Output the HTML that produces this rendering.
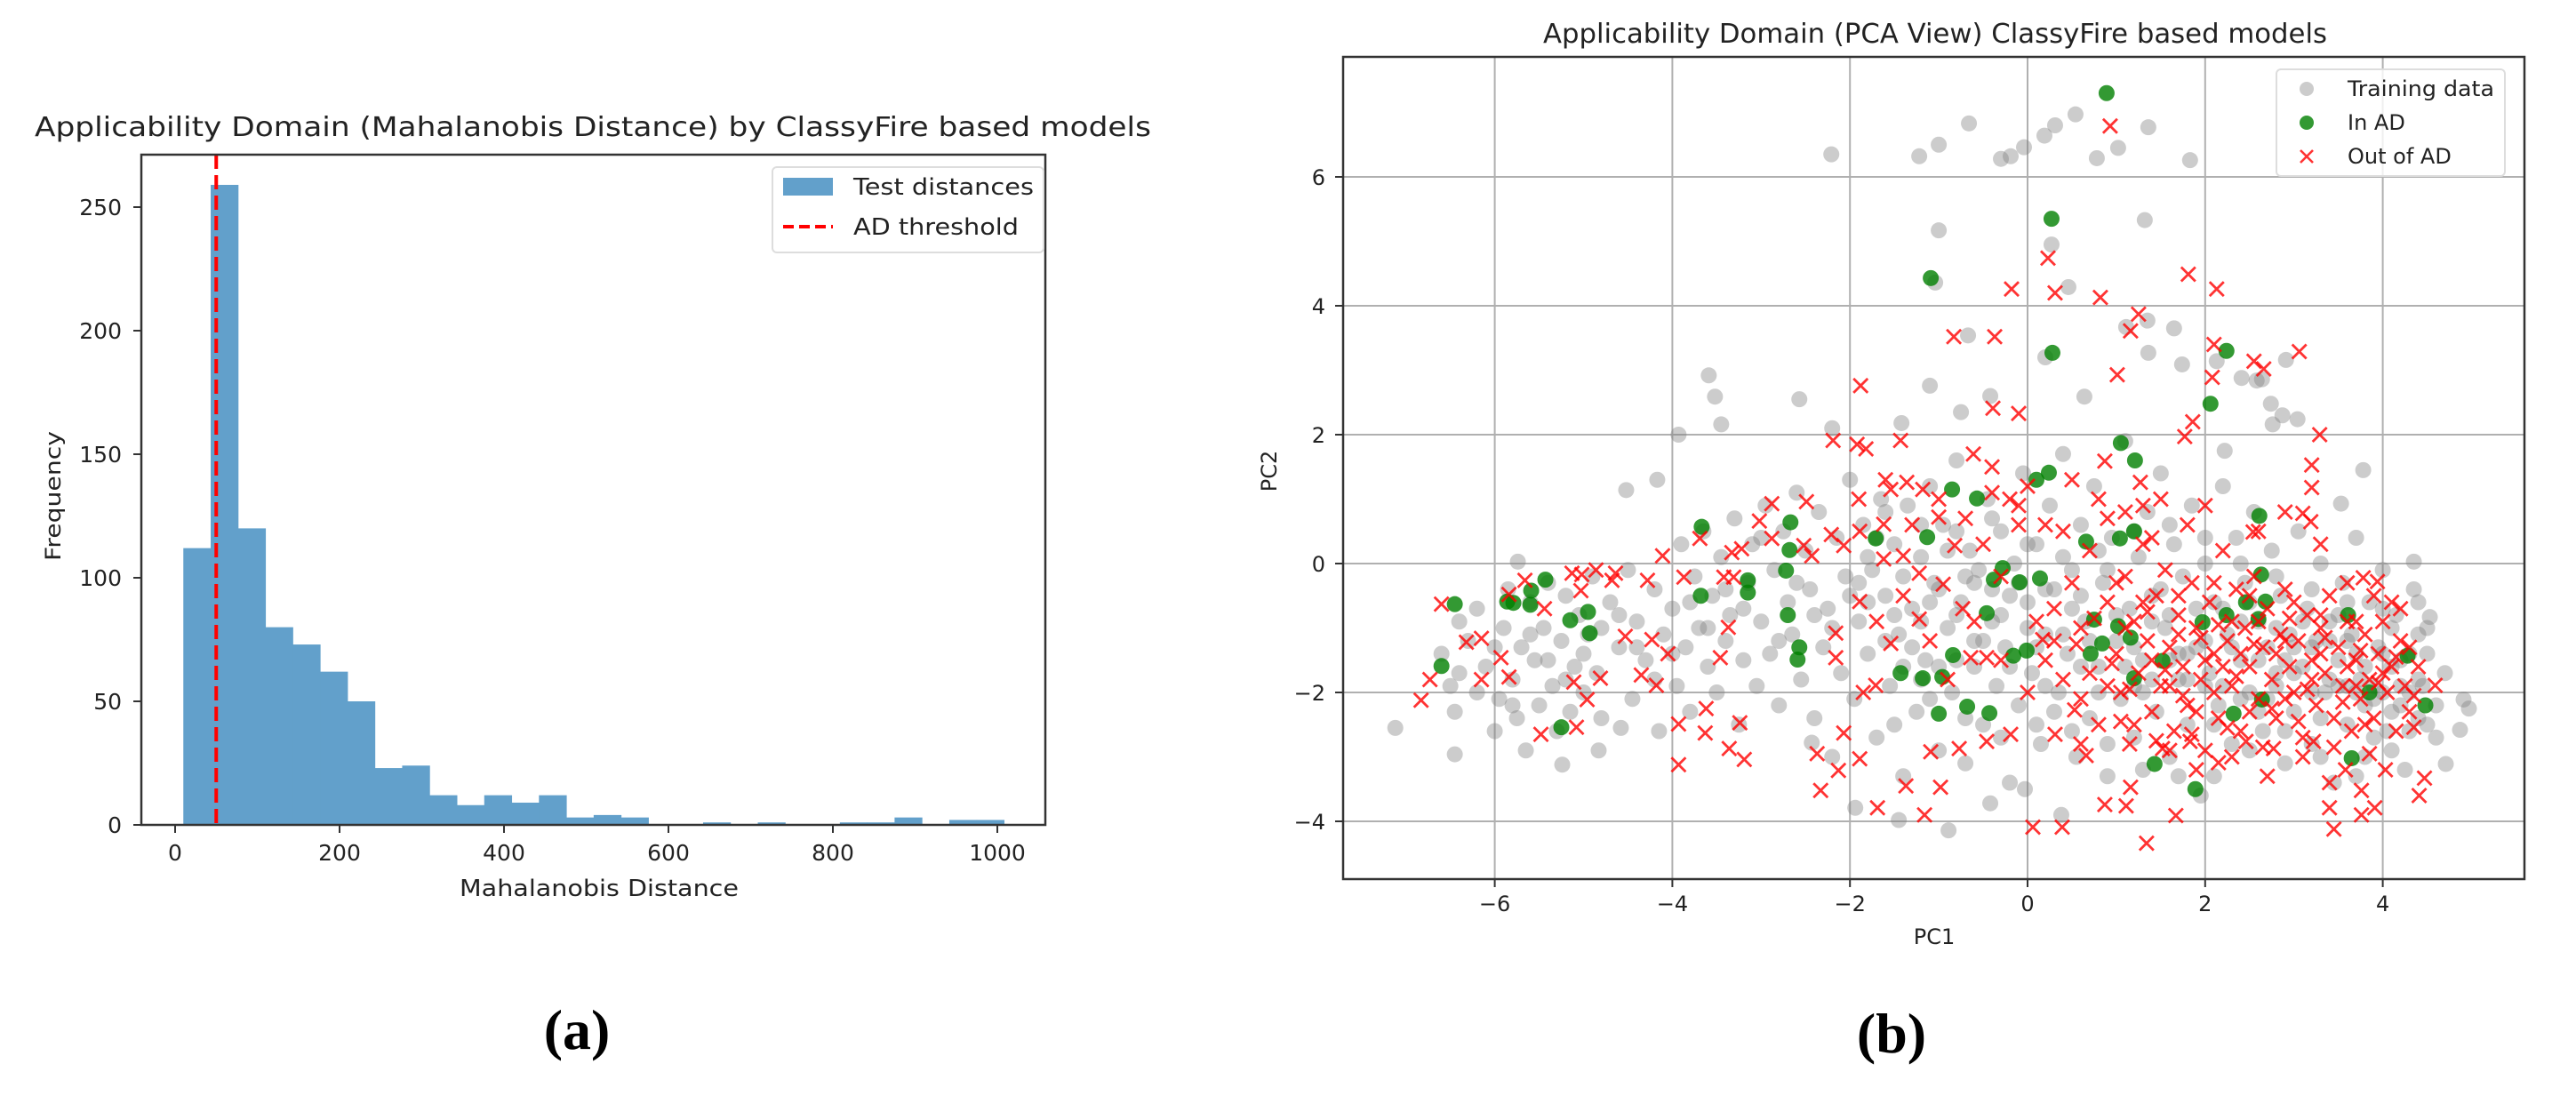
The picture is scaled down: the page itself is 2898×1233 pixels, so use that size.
<!DOCTYPE html>
<html><head><meta charset="utf-8"><style>
html,body{margin:0;padding:0;background:#fff;}
svg{display:block;font-family:"DejaVu Sans","Liberation Sans",sans-serif;}
</style></head><body>
<svg id="fig" width="2898" height="1233" viewBox="0 0 2898 1233" xmlns="http://www.w3.org/2000/svg">
<defs>
<clipPath id="clipB"><rect x="1511" y="64" width="1329" height="925"/></clipPath>
</defs>
<g id="chartA"></g>
<g id="chartB"></g>
<text x="649" y="1180" text-anchor="middle" font-family="Liberation Serif, serif" font-weight="bold" font-size="64">(a)</text>
<text x="2128" y="1184" text-anchor="middle" font-family="Liberation Serif, serif" font-weight="bold" font-size="64">(b)</text>
</svg>
<script>
// ---------- Histogram data ----------
const binStart = 10;
const binWidth = 33.27;
const binCounts = [112,259,120,80,73,62,50,23,24,12,8,12,9,12,3,4,3,0,0,1,0,1,0,0,1,1,3,0,2,2];
const histXTicks = [0,200,400,600,800,1000];
const histYTicks = [0,50,100,150,200,250];
const adThreshold = 50;

// ---------- PCA scatter data ----------
const trainingPts = "-1.22,6.32 -1.0,6.5 -0.66,6.83 -0.19,6.32 -0.04,6.46 0.31,6.8 0.54,6.97 0.78,6.29 1.02,6.45 1.36,6.77 -2.21,6.35 -0.3,6.28 0.19,6.64 1.83,6.26 -1.0,5.17 1.32,5.33 0.27,4.95 -1.04,4.36 0.46,4.29 -0.67,3.54 0.2,3.2 1.35,3.77 1.36,3.27 1.11,3.67 1.65,3.65 2.13,3.14 1.74,3.09 2.74,2.48 2.76,2.16 2.87,2.3 3.04,2.24 2.58,2.84 2.41,2.88 2.64,2.86 0.64,2.59 -0.42,2.6 -2.57,2.55 -3.59,2.92 -3.52,2.59 -3.45,2.16 -3.93,2.0 -1.1,2.76 -0.75,2.35 -1.42,2.18 -2.2,2.1 -4.17,1.3 -4.52,1.14 -5.74,0.03 2.91,3.16 2.22,1.75 3.78,1.45 3.53,0.93 4.35,0.03 4.53,-0.83 4.91,-2.11 4.97,-2.25 4.87,-2.58 4.71,-3.11 -7.12,-2.55 -6.45,-2.96 -5.24,-3.12 -4.83,-2.9 -4.58,-2.55 -1.94,-3.79 -1.45,-3.98 -0.89,-4.14 0.38,-3.9 -0.42,-3.72 -0.03,-3.5 -2.43,-2.78 -6.6,-1.4 -6.5,-1.9 -6.45,-2.3 -6.4,-0.9 -6.3,-1.2 -6.2,-0.7 -6.1,-1.6 -6.0,-2.6 -5.95,-2.1 -5.9,-1.0 -5.85,-0.4 -5.8,-1.8 -5.75,-2.4 -5.7,-1.3 -5.65,-2.9 -5.6,-0.6 -5.55,-1.5 -5.5,-2.2 -5.45,-1.0 -5.4,-0.3 -5.35,-1.9 -5.3,-2.6 -5.25,-1.2 -5.2,-0.5 -5.15,-2.3 -5.1,-1.6 -5.05,-0.8 -5.0,-2.0 -4.95,-1.1 -4.9,-0.2 -4.85,-1.7 -4.8,-2.4 -4.7,-0.6 -4.6,-1.3 -4.5,-0.1 -4.45,-2.1 -4.4,-0.9 -4.3,-1.5 -4.2,-0.4 -4.15,-2.6 -4.1,-1.1 -4.0,-0.7 -3.95,-1.9 -3.9,0.3 -3.85,-1.3 -3.8,-2.3 -3.75,-0.2 -3.7,-1.0 -3.65,0.5 -3.6,-1.6 -3.55,-0.5 -3.5,-2.0 -3.45,0.1 -3.4,-1.2 -3.35,-0.8 -3.3,0.7 -3.25,-2.5 -3.2,-1.5 -3.15,-0.3 -3.1,0.3 -3.05,-1.9 -3.0,-0.9 -2.95,0.9 -2.9,-1.4 -2.85,-0.1 -2.8,-2.2 -2.75,0.5 -2.7,-0.6 -2.65,-1.1 -2.6,1.1 -2.55,-1.8 -2.5,0.2 -2.45,-0.4 -2.4,-2.4 -2.35,0.8 -2.3,-1.3 -2.25,-0.7 -2.2,-3.0 -2.15,0.4 -2.1,-1.7 -2.05,-0.2 -2.0,1.3 -1.95,-2.1 -1.9,-0.9 -1.85,0.6 -1.8,-1.4 -1.75,-0.1 -1.7,-2.7 -1.65,1.0 -1.6,-0.5 -1.55,-1.9 -1.5,0.3 -1.45,-1.1 -1.4,-3.3 -1.35,0.9 -1.3,-0.7 -1.25,-2.3 -1.2,0.1 -1.15,-1.5 -1.1,1.2 -1.05,-0.3 -1.0,-2.9 -0.95,0.6 -0.9,-1.0 -0.85,-2.0 -0.8,1.6 -0.75,-0.6 -0.7,-3.1 -0.65,0.2 -0.6,-1.6 -0.55,-0.1 -0.5,-2.5 -0.45,1.0 -0.4,-0.9 -0.35,-1.9 -0.3,0.5 -0.25,-1.3 -0.2,-3.4 -0.15,0.0 -0.1,-2.2 -0.05,1.4 0.0,-0.6 0.05,-1.7 0.1,0.3 0.15,-2.8 0.2,-1.1 0.25,0.9 0.3,-0.4 0.35,-2.0 0.4,1.7 0.45,-1.4 0.5,-0.1 0.55,-3.0 0.6,0.6 0.65,-0.9 0.7,-2.4 0.75,1.2 0.8,-1.6 0.85,-0.3 0.9,-3.3 0.95,0.4 1.0,-1.2 1.05,-2.1 1.1,1.9 1.15,-0.7 1.2,-2.7 1.25,0.1 1.3,-1.5 1.35,0.8 1.4,-0.5 1.45,-2.3 1.5,1.4 1.55,-1.0 1.6,-3.0 1.65,0.3 1.7,-1.8 1.75,-0.2 1.8,-2.5 1.85,0.9 1.9,-1.3 1.95,-3.6 2.0,0.0 2.05,-1.7 2.1,-0.6 2.15,-2.2 2.2,1.2 2.25,-1.1 2.3,-2.8 2.35,0.4 2.4,-1.5 2.45,-0.3 2.5,-2.0 2.55,0.8 2.6,-0.9 2.65,-2.6 2.7,-1.3 2.75,0.2 2.8,-1.9 2.85,-0.5 2.9,-3.1 2.95,-1.1 3.0,-2.3 3.05,0.5 3.1,-1.6 3.15,-0.7 3.2,-2.8 3.25,-1.2 3.3,0.0 3.35,-2.0 3.4,-0.9 3.45,-3.4 3.5,-1.5 3.55,-0.3 3.6,-2.5 3.65,-1.1 3.7,0.4 3.75,-1.8 3.8,-3.0 3.85,-0.6 3.9,-2.1 3.95,-1.3 4.0,-0.1 4.05,-2.6 4.1,-1.6 4.15,-0.8 4.2,-2.2 4.25,-3.2 4.3,-1.4 4.35,-0.4 4.4,-2.4 4.45,-1.9 4.5,-1.0 4.6,-2.7 4.7,-1.7 1.2,-1.3 1.4,-1.8 1.6,-0.8 1.8,-1.4 2.0,-1.9 2.2,-0.7 2.4,-2.1 2.6,-1.5 2.8,-1.0 3.0,-1.7 3.2,-1.3 3.4,-1.8 3.6,-1.2 3.8,-1.6 4.0,-2.0 4.2,-1.5 4.4,-1.8 3.9,-1.9 3.7,-2.0 3.5,-1.9 4.1,-2.3 4.3,-2.0 -0.2,-0.5 -0.6,-0.3 -1.0,-0.4 -1.4,-0.2 -1.8,-0.6 -1.2,-1.8 -0.8,-1.5 0.2,-1.9 0.6,-1.6 -1.9,-0.3 -1.7,0.4 -1.5,-0.8 -1.3,-1.3 -1.1,-0.6 -0.9,0.2 -0.7,-0.2 -0.5,-1.2 -0.3,-0.8 -0.1,-0.3 0.1,-1.3 0.3,-2.3 0.5,-0.7 0.7,-1.2 0.9,-0.1 1.1,-1.6 1.3,-2.0 1.5,-0.4 1.7,-1.4 1.9,-0.7 2.1,-2.5 2.3,-1.3 2.5,-0.6 2.7,-2.1 2.9,-1.5 3.1,-0.9 3.3,-2.4 3.5,-0.8 3.7,-1.4 3.9,-2.7 4.1,-1.0 4.3,-2.6 4.5,-1.4 4.6,-2.2 4.4,-1.1 4.2,-1.9 4.0,-1.4 3.8,-2.2 3.6,-1.9 3.4,-1.2 3.2,-2.0 3.0,-1.3 2.8,-1.7 2.6,-2.3 2.4,-0.9 2.2,-1.9 2.0,-1.2 1.8,-1.8 1.6,-1.5 1.4,-0.9 1.2,-1.9 1.0,-0.8 0.8,-2.0 0.6,-0.5 0.4,-1.1 0.2,-0.4 0.0,-1.0 -0.2,-1.6 -0.4,-0.4 -0.6,-1.2 -0.8,-0.8 -1.0,-1.6 -1.2,-0.9 -1.4,-1.6 -1.6,-1.2 -1.8,0.1 -2.0,-0.5 -2.2,-1.0 -2.4,-0.8 -2.6,-0.3 -2.8,-1.2 -3.0,0.4 -3.2,-0.7 -3.4,-0.4 -3.6,-1.0 -3.8,-0.6 -4.0,-1.4 -4.2,-1.8 -4.4,-1.3 -4.6,-0.8 -4.8,-1.0 -5.0,-1.4 -5.2,-1.8 -5.4,-1.5 -5.6,-1.1 -5.8,-2.2 -6.0,-1.3 -6.2,-2.0 -6.4,-1.7 -1.6,0.8 -1.2,0.6 -0.8,0.5 -0.4,0.7 0.0,0.3 0.4,0.1 0.8,0.2 1.2,0.5 1.6,0.6 2.0,0.4 2.4,0.0 2.8,-0.2 3.2,-0.4 3.6,-0.6 4.0,-0.7 4.4,-0.6 -1.5,-2.5 -1.1,-2.1 -0.7,-2.4 -0.3,-2.7 0.1,-2.5 0.5,-2.6 0.9,-2.8 1.3,-3.2 1.7,-3.3 2.1,-3.3 2.5,-2.9 2.9,-2.6 3.3,-3.0 3.7,-3.3 4.1,-2.9 4.5,-2.5";
const inADPts = "0.89,7.3 0.27,5.35 -1.09,4.43 0.28,3.27 2.24,3.3 2.06,2.48 1.05,1.87 1.21,1.6 0.1,1.3 0.24,1.41 -0.85,1.15 -0.57,1.01 -3.67,0.57 -2.67,0.64 2.61,0.74 2.63,-0.17 2.46,-0.6 2.6,-0.86 3.61,-0.8 4.28,-1.43 4.48,-2.2 3.65,-3.02 1.89,-3.5 1.43,-3.11 -0.43,-2.32 -0.16,-1.43 -0.84,-1.42 -1.43,-1.7 -0.96,-1.76 -2.59,-1.49 -2.57,-1.3 -2.7,-0.8 -3.15,-0.45 -3.68,-0.5 -2.68,0.21 -2.72,-0.11 -4.93,-1.08 -5.15,-0.88 -4.95,-0.75 -5.43,-0.25 -5.59,-0.42 -5.79,-0.61 -6.45,-0.63 -6.6,-1.59 -5.25,-2.54 -0.46,-0.77 -0.38,-0.25 -0.28,-0.07 -0.09,-0.29 0.14,-0.23 0.66,0.34 1.04,0.39 0.75,-0.87 0.71,-1.4 0.84,-1.24 1.02,-0.97 1.16,-1.15 1.52,-1.51 1.2,-1.78 1.97,-0.91 2.24,-0.8 2.32,-2.33 2.68,-0.59 2.64,-2.11 3.85,-2.0 -1.18,-1.78 -1.0,-2.33 -0.68,-2.22 -0.01,-1.35 -1.71,0.39 -1.13,0.41 1.2,0.5 -3.15,-0.26 -5.6,-0.64 -5.86,-0.59";
const outADPts = "0.93,6.79 0.23,4.74 -0.18,4.26 0.31,4.2 0.82,4.13 1.81,4.49 2.13,4.26 -0.83,3.52 -0.37,3.52 1.25,3.87 1.16,3.61 2.1,3.4 3.06,3.29 2.55,3.14 2.66,3.02 2.08,2.89 1.01,2.93 -1.88,2.76 -0.39,2.41 -0.1,2.33 1.86,2.2 1.77,1.97 3.29,2.0 3.2,1.53 3.2,1.18 3.1,0.78 3.19,0.65 -2.19,1.91 -1.92,1.85 -1.82,1.78 -1.43,1.91 -0.61,1.7 -0.4,1.5 0.87,1.59 1.27,1.26 -2.88,0.93 -2.49,0.96 -4.11,0.12 2.54,0.49 3.78,-0.22 3.94,-0.28 -6.6,-0.63 -6.83,-2.12 -6.73,-1.8 -6.32,-1.22 -6.15,-1.16 -6.15,-1.8 -5.93,-1.46 -5.84,-1.76 -5.48,-2.65 -5.08,-2.54 -4.96,-2.11 -5.11,-1.84 -4.81,-1.78 -4.53,-1.13 -4.35,-1.73 -4.18,-1.89 -4.23,-1.18 -4.05,-1.4 -3.93,-2.49 -3.93,-3.12 -3.63,-2.63 -3.62,-2.25 -3.36,-2.87 -3.19,-3.04 -3.24,-2.47 -3.46,-1.46 -3.37,-0.99 -2.37,-2.95 -2.33,-3.52 -2.13,-3.21 -2.07,-2.63 -1.89,-3.03 -1.69,-3.79 -1.37,-3.45 -1.16,-3.9 -0.98,-3.47 -1.09,-2.92 -0.77,-2.87 -0.46,-2.76 -0.19,-2.65 0.06,-4.09 0.39,-4.09 0.87,-3.74 1.11,-3.76 1.16,-3.47 1.34,-4.34 1.67,-3.91 3.4,-3.79 3.45,-4.12 3.76,-3.9 3.91,-3.79 3.76,-3.52 4.41,-3.6 4.47,-3.33 4.59,-1.89 4.35,-2.54 4.03,-3.2 3.58,-3.2 3.22,-2.76 2.77,-2.87 2.46,-2.76 2.15,-3.09 1.83,-2.76 1.52,-2.87 0.66,-2.98 0.31,-2.65 0.53,-2.27 -1.85,-2.0 -2.16,-1.46 -2.16,-1.08 -1.89,-0.59 -2.07,0.28 -1.54,-1.24 -1.71,-1.89 -1.22,-0.86 -0.73,-0.7 -0.95,-0.32 -0.64,-1.46 -0.46,-1.46 0.17,-1.18 -2.43,0.12 -2.52,0.28 -2.88,0.39 -3.02,0.66 -3.33,0.17 -3.22,0.23 -3.42,-0.21 -3.31,-0.21 -5.13,-0.15 -5.02,-0.17 -4.86,-0.1 -4.68,-0.26 -3.87,-0.21 -4.28,-0.26 -4.64,-0.15 -5.66,-0.26 -5.84,-0.48 -5.44,-0.7 -5.03,-0.42 -3.69,0.39 -2.21,0.45 -1.89,0.5 -1.62,0.61 -1.54,1.15 -1.36,1.26 -1.18,1.15 -1.0,0.72 -0.82,0.28 -1.62,0.07 -1.4,0.12 -1.22,-0.15 0.5,-0.3 0.6,-1.0 0.7,-1.7 0.8,-2.5 0.9,-0.6 1.0,-1.4 1.05,-2.0 1.1,-0.2 1.15,-2.8 1.2,-0.9 1.25,-1.7 1.3,0.3 1.35,-1.2 1.4,-2.3 1.45,-0.5 1.5,-1.9 1.55,-0.1 1.6,-1.3 1.65,-2.6 1.7,-0.8 1.75,-1.6 1.8,-2.2 1.85,-0.3 1.9,-1.0 1.95,-1.8 2.0,-2.9 2.05,-0.6 2.1,-1.4 2.15,-2.4 2.2,0.2 2.25,-1.2 2.3,-1.9 2.35,-0.4 2.4,-2.6 2.45,-1.0 2.5,-1.6 2.55,-0.2 2.6,-2.1 2.65,-1.3 2.7,-0.7 2.75,-1.8 2.8,-2.4 2.85,-1.1 2.9,-0.4 2.95,-1.6 3.0,-2.0 3.05,-1.2 3.1,-2.7 3.15,-0.8 3.2,-1.5 3.25,-2.2 3.3,-1.0 3.35,-1.7 3.4,-0.5 3.45,-2.4 3.5,-1.3 3.55,-1.9 3.6,-0.9 3.65,-2.6 3.7,-1.5 3.75,-2.1 3.8,-1.1 3.85,-1.8 3.9,-2.4 3.95,-1.4 4.0,-0.9 4.05,-2.0 4.1,-1.6 4.15,-2.6 4.2,-1.2 4.25,-1.9 4.3,-2.3 4.4,-1.6 1.8,0.6 2.0,0.9 1.5,1.0 1.3,0.9 0.9,0.7 0.7,0.2 0.4,0.5 0.3,-0.7 0.2,-1.5 0.1,-0.9 -0.1,0.6 -0.3,-0.2 -0.5,0.3 -0.2,1.0 0.0,1.2 2.6,0.5 2.9,0.8 3.3,0.3 3.6,-0.3 3.9,-0.5 4.2,-0.7 1.2,-2.5 1.6,-2.9 1.9,-3.2 2.3,-3.0 2.7,-3.3 3.1,-3.0 3.4,-3.4 0.6,-2.1 0.4,-1.8 0.9,-1.9 1.4,-1.5 1.7,-1.1 2.2,-1.6 2.6,-0.9 3.0,-0.6 3.3,-1.4 3.6,-1.6 2.0,-1.5 2.1,-2.0 1.9,-2.3 1.6,-1.9 2.4,-1.4 2.8,-1.4 3.2,-1.8 3.7,-1.9 4.0,-1.7 1.1,-1.0 1.3,-0.6 1.0,-0.3 2.3,-0.9 2.5,-2.3 2.9,-2.1 3.8,-2.5 4.3,-1.3 0.55,-1.25 0.75,-0.85 0.95,-1.55 1.15,-1.95 1.35,-0.75 1.55,-1.65 1.75,-2.05 1.95,-1.15 2.15,-0.95 2.35,-1.75 2.55,-1.25 2.75,-2.25 2.95,-0.85 3.15,-1.95 3.35,-1.15 3.55,-2.15 3.75,-1.35 3.95,-1.85 4.15,-1.45 4.35,-2.05 1.05,-2.45 1.45,-2.75 1.85,-2.65 2.25,-2.55 2.65,-2.85 3.05,-2.45 3.45,-2.85 3.85,-2.95 -1.9,1.0 -1.6,1.3 -1.3,0.6 -1.0,1.0 -0.7,0.7 -0.4,1.1 -0.1,0.9 0.2,0.6 0.5,1.3 0.8,1.0 1.1,0.8 1.4,0.4 -1.7,-0.9 -1.4,-0.5 -1.1,-1.2 -0.9,-1.8 -0.6,-0.9 -0.3,-1.5 0.0,-2.0 0.3,-1.2 0.6,-2.8 1.7,-0.5 2.1,-0.3 2.5,-0.5 2.9,-1.2 3.3,-0.8 3.7,-0.9 4.1,-0.6";
const pcXTicks = [-6,-4,-2,0,2,4];
const pcYTicks = [-4,-2,0,2,4,6];

const NS = "http://www.w3.org/2000/svg";
function mk(tag, attrs, parent){ const e=document.createElementNS(NS,tag); for(const k in attrs) e.setAttribute(k,attrs[k]); parent.appendChild(e); return e; }
function parsePts(s){ return s.trim().split(/\s+/).map(p=>p.split(',').map(Number)); }

// ===== Chart A =====
const A = document.getElementById('chartA');
const aL=159, aR=1176, aT=174, aB=928;
const ax = v => 197 + v*0.925;
const ay = v => 928 - v*2.78;
binCounts.forEach((c,i)=>{
  if(c<=0) return;
  const x0=ax(binStart+i*binWidth), x1=ax(binStart+(i+1)*binWidth);
  const r=mk('rect',{x:x0,y:ay(c),width:x1-x0+0.5,height:ay(0)-ay(c),fill:'#62a0cb'},A);
  
  
});
const th=mk('line',{x1:ax(adThreshold),x2:ax(adThreshold),y1:aT,y2:aB,stroke:'#ff0000','stroke-width':4,'stroke-dasharray':'16,7'},A);


const fa=mk('rect',{x:aL,y:aT,width:aR-aL,height:aB-aT,fill:'none',stroke:'#333','stroke-width':2.5},A);


histXTicks.forEach(v=>{
  mk('line',{x1:ax(v),x2:ax(v),y1:aB,y2:aB+9,stroke:'#333','stroke-width':2},A);
  const t=mk('text',{x:ax(v),y:968,'text-anchor':'middle','font-size':25,fill:'#222'},A); t.textContent=v;
  
  
});
histYTicks.forEach(v=>{
  mk('line',{x1:aL-9,x2:aL,y1:ay(v),y2:ay(v),stroke:'#333','stroke-width':2},A);
  const t=mk('text',{x:137,y:ay(v)+9,'text-anchor':'end','font-size':25,fill:'#222'},A); t.textContent=v;
  
  
});
let t;
t=mk('text',{x:667,y:153,'text-anchor':'middle','font-size':30,fill:'#222',textLength:1256,lengthAdjust:'spacingAndGlyphs'},A);
t.textContent='Applicability Domain (Mahalanobis Distance) by ClassyFire based models';


t=mk('text',{x:674,y:1008,'text-anchor':'middle','font-size':26,fill:'#222',textLength:314,lengthAdjust:'spacingAndGlyphs'},A);
t.textContent='Mahalanobis Distance';


t=mk('text',{x:0,y:0,'text-anchor':'middle','font-size':24,fill:'#222',transform:'translate(68,558) rotate(-90)',textLength:146,lengthAdjust:'spacingAndGlyphs'},A);
t.textContent='Frequency';


const lgA=mk('g',{},A);


mk('rect',{x:869,y:188,width:305,height:96,rx:5,fill:'#fff','fill-opacity':0.8,stroke:'#ddd','stroke-width':2},lgA);
mk('rect',{x:881,y:200,width:56,height:20,fill:'#62a0cb'},lgA);
mk('line',{x1:881,x2:937,y1:255,y2:255,stroke:'#ff0000','stroke-width':4,'stroke-dasharray':'12,6'},lgA);
t=mk('text',{x:960,y:219,'font-size':26,fill:'#222',textLength:203,lengthAdjust:'spacingAndGlyphs'},lgA); t.textContent='Test distances';


t=mk('text',{x:960,y:264,'font-size':26,fill:'#222',textLength:186,lengthAdjust:'spacingAndGlyphs'},lgA); t.textContent='AD threshold';



// ===== Chart B =====
const B = document.getElementById('chartB');
const bL=1511, bR=2840, bT=64, bB=989;
const bx = v => 2281 + v*99.9;
const by = v => 634 - v*72.5;
pcXTicks.forEach(v=>{
  mk('line',{x1:bx(v),x2:bx(v),y1:bT,y2:bB,stroke:'#b0b0b0','stroke-width':2},B);
  mk('line',{x1:bx(v),x2:bx(v),y1:bB,y2:bB+9,stroke:'#333','stroke-width':2},B);
  const tt=mk('text',{x:bx(v),y:1025,'text-anchor':'middle','font-size':24,fill:'#222'},B); tt.textContent=(v<0?'\u2212'+(-v):v);
  
  
});
pcYTicks.forEach(v=>{
  mk('line',{x1:bL,x2:bR,y1:by(v),y2:by(v),stroke:'#b0b0b0','stroke-width':2},B);
  mk('line',{x1:bL-9,x2:bL,y1:by(v),y2:by(v),stroke:'#333','stroke-width':2},B);
  const tt=mk('text',{x:1491,y:by(v)+9,'text-anchor':'end','font-size':24,fill:'#222'},B); tt.textContent=(v<0?'\u2212'+(-v):v);
  
  
});
const pts=mk('g',{'clip-path':'url(#clipB)'},B);
parsePts(trainingPts).forEach(([x,y])=>{
  const c=mk('circle',{cx:bx(x),cy:by(y),r:9,fill:'#808080','fill-opacity':0.4},pts);
  
  
});
parsePts(inADPts).forEach(([x,y])=>{
  const c=mk('circle',{cx:bx(x),cy:by(y),r:9,fill:'#008000','fill-opacity':0.8},pts);
  
  
});
parsePts(outADPts).forEach(([x,y])=>{
  const cx=bx(x), cy=by(y), s=8;
  const p=mk('path',{d:`M${cx-s},${cy-s}L${cx+s},${cy+s}M${cx-s},${cy+s}L${cx+s},${cy-s}`,stroke:'#ff0000','stroke-opacity':0.8,'stroke-width':2.8,fill:'none'},pts);
  
  
});
const fb=mk('rect',{x:bL,y:bT,width:bR-bL,height:bB-bT,fill:'none',stroke:'#333','stroke-width':2.5},B);


t=mk('text',{x:2177,y:48,'text-anchor':'middle','font-size':30,fill:'#222',textLength:882,lengthAdjust:'spacingAndGlyphs'},B);
t.textContent='Applicability Domain (PCA View) ClassyFire based models';


t=mk('text',{x:2176,y:1062,'text-anchor':'middle','font-size':24,fill:'#222'},B);
t.textContent='PC1';


t=mk('text',{x:0,y:0,'text-anchor':'middle','font-size':24,fill:'#222',transform:'translate(1436,530) rotate(-90)'},B);
t.textContent='PC2';


const lgB=mk('g',{},B);


mk('rect',{x:2561,y:78,width:257,height:120,rx:5,fill:'#fff','fill-opacity':0.8,stroke:'#ddd','stroke-width':2},lgB);
mk('circle',{cx:2595,cy:100,r:8,fill:'#808080','fill-opacity':0.4},lgB);
mk('circle',{cx:2595,cy:138,r:8,fill:'#008000','fill-opacity':0.8},lgB);
mk('path',{d:'M2588,169L2602,183M2588,183L2602,169',stroke:'#ff0000','stroke-opacity':0.8,'stroke-width':2.6},lgB);
t=mk('text',{x:2641,y:108,'font-size':24,fill:'#222',textLength:165,lengthAdjust:'spacingAndGlyphs'},lgB); t.textContent='Training data';


t=mk('text',{x:2641,y:146,'font-size':24,fill:'#222'},lgB); t.textContent='In AD';


t=mk('text',{x:2641,y:184,'font-size':24,fill:'#222'},lgB); t.textContent='Out of AD';


</script>
</body></html>
